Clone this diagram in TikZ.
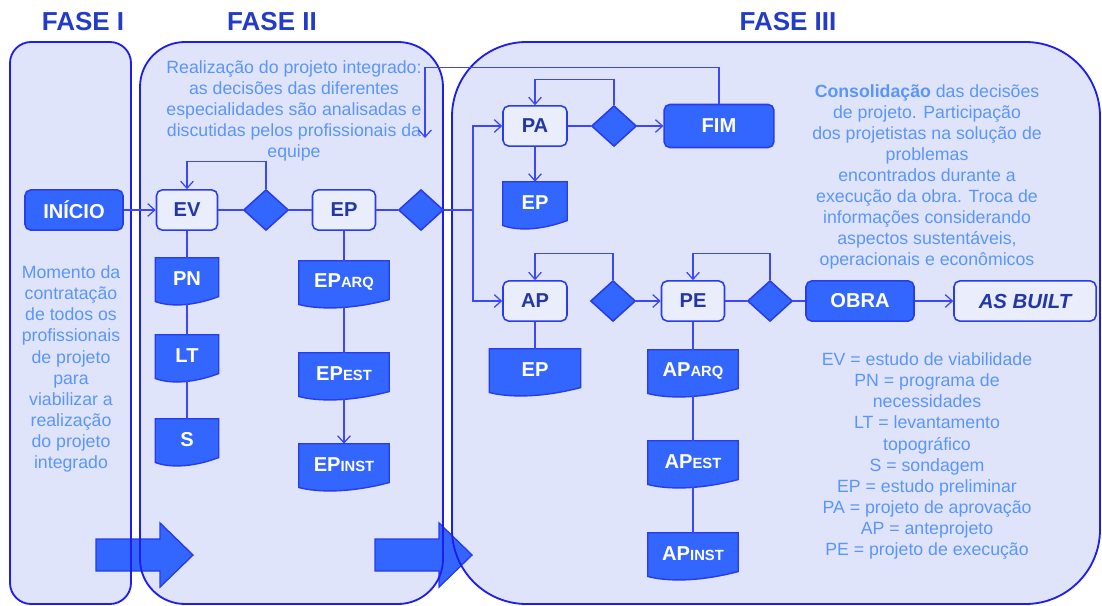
\documentclass[tikz,border=0pt]{standalone}
\usepackage{fontspec}
\setmainfont{Liberation Sans}
\usepackage{xcolor}
\usetikzlibrary{arrows.meta, positioning, calc, shapes.geometric}

\definecolor{lilas}{RGB}{224,228,250}
\definecolor{borda}{RGB}{30,30,235}
\definecolor{azul}{RGB}{51,102,255}
\definecolor{contorno}{RGB}{40,60,235}
\definecolor{escuro}{RGB}{35,55,165}
\definecolor{claro}{RGB}{90,150,250}
\definecolor{titulo}{RGB}{35,60,200}
\definecolor{traco}{RGB}{60,70,250}
\definecolor{caixa}{RGB}{234,237,252}

\tikzset{
  fase/.style={text=titulo, font=\fontsize{18.5}{20}\selectfont\bfseries},
  painel/.style={draw=borda, line width=1.3pt},
  texto/.style={text=claro, align=center, font=\fontsize{12.6}{15}\selectfont},
  aberta/.style={draw=contorno, line width=1.1pt, fill=caixa, rounded corners=4pt, text=escuro,
    font=\fontsize{14.3}{16}\selectfont\bfseries, minimum height=28.5pt, inner sep=0pt},
  cheia/.style={aberta, fill=azul, text=white},
  losango/.style={diamond, draw=contorno, line width=1.1pt, fill=azul, minimum width=32pt,
    minimum height=29pt, inner sep=0pt},
  folhabox/.style={minimum height=32.7pt, inner sep=0pt},
  folhafill/.style={fill=azul, draw=contorno, line width=1pt},
  folhatexto/.style={text=white, font=\fontsize{14.3}{16}\selectfont\bfseries, inner sep=0pt},
  liga/.style={draw=traco, line width=0.9pt},
  seta/.style={fill=azul, draw=contorno, line width=1pt},
}

\newcommand{\miudo}[1]{{\fontsize{10.5}{12}\selectfont #1}}
% documento com base ondulada
\newcommand{\folha}[4]{%
  \node[folhabox, minimum width=#3] (#1) at (#2) {};
  \filldraw[folhafill] (#1.north west) -- (#1.north east) -- ([yshift=5.5pt]#1.south east)
    .. controls ($(#1.south east)!0.45!(#1.south west)+(0,3)$) and ($(#1.south east)!0.8!(#1.south west)+(0,2)$)
    .. ([yshift=2pt]#1.south west) -- cycle;
  \node[folhatexto] at ([yshift=1.5pt]#1.center) {#4};
}

\begin{document}
\begin{tikzpicture}[x=0.025cm, y=-0.025cm, >={Straight Barb[length=5pt,width=9pt]}]
\useasboundingbox (0,0) rectangle (1102,605);

% paineis das fases
\foreach \a/\b/\r in {10/131/15pt, 140/443/32pt, 452/1100/53pt}
  \fill[lilas, rounded corners=\r] (\a,42) rectangle (\b,604);
\foreach \x in {96,375}
  \filldraw[seta] (\x,539) -- ++(64,0) -- ++(0,-16) -- ++(33,32) -- ++(-33,32) -- ++(0,-16) -- ++(-64,0) -- cycle;
\foreach \a/\b/\r in {10/131/15pt, 140/443/32pt, 452/1100/53pt}
  \draw[painel, rounded corners=\r] (\a,42) rectangle (\b,604);

\node[fase] (f1) at (83,22) {FASE I};
\node[fase] (f2) at (272,22) {FASE II};
\node[fase] (f3) at (788,22) {FASE III};

\node[texto] (txt1) at (71,369) {Momento da\\contratação\\de todos os\\profissionais\\de projeto\\para\\viabilizar a\\realização\\do projeto\\integrado};
\node[texto] (txt2) at (294,111) {Realização do projeto integrado:\\as decisões das diferentes\\especialidades são analisadas e\\discutidas pelos profissionais da\\equipe};
\node[texto] (txt3) at (927,177) {\textbf{Consolidação} das decisões\\de projeto. Participação\\dos projetistas na solução de\\problemas\\encontrados durante a\\execução da obra. Troca de\\informações considerando\\aspectos sustentáveis,\\operacionais e econômicos};
\node[texto] (legenda) at (927,456) {EV = estudo de viabilidade\\PN = programa de\\necessidades\\LT = levantamento\\topográfico\\S = sondagem\\EP = estudo preliminar\\PA = projeto de aprovação\\AP = anteprojeto\\PE = projeto de execução};

% fluxo principal
\node[cheia, minimum width=69.7pt] (inicio) at (74,210) {INÍCIO};
\node[aberta, minimum width=43.4pt] (ev) at (187,210) {EV};
\node[losango] (d1) at (266,210) {};
\node[aberta, minimum width=44.8pt] (ep) at (344,210) {EP};
\node[losango] (d2) at (421,210) {};
\coordinate (desvio) at (473,210);
\node[aberta, minimum width=45.5pt] (pa) at (535,126) {PA};
\node[losango] (d3) at (614,126) {};
\node[cheia, minimum width=78pt, minimum height=30.6pt] (fim) at (719,126) {FIM};
\coordinate (retorno) at (425,138);
\node[aberta, minimum width=45.5pt] (ap) at (535,301) {AP};
\node[losango] (d4) at (613,301) {};
\node[aberta, minimum width=44.8pt] (pe) at (693,301) {PE};
\node[losango] (d5) at (770,301) {};
\node[cheia, minimum width=76.8pt] (obra) at (860,301) {OBRA};
\node[aberta, minimum width=101pt, font=\fontsize{14.5}{16}\selectfont\bfseries\itshape] (asbuilt) at (1025,301) {AS BUILT};

% documentos
\folha{pn}{187,281}{44.8pt}{PN}
\folha{lt}{187,358}{44.8pt}{LT}
\folha{s}{187,442}{44.8pt}{S}
\folha{eparq}{344,284}{64pt}{EP\miudo{ARQ}}
\folha{epest}{344,376}{64pt}{EP\miudo{EST}}
\folha{epinst}{344,467}{64pt}{EP\miudo{INST}}
\folha{epa}{535,205}{45.5pt}{EP}
\folha{epb}{535,372}{64.7pt}{EP}
\folha{aparq}{693,373}{64pt}{AP\miudo{ARQ}}
\folha{apest}{693,464}{64pt}{AP\miudo{EST}}
\folha{apinst}{693,556}{64pt}{AP\miudo{INST}}

% ligacoes
\draw[liga,->] (inicio) -- (ev);
\draw[liga] (ev) -- (d1);
\draw[liga] (d1) -- (ep);
\draw[liga,->] (d1.north) -- ++(0,-27) -| (ev.north);
\draw[liga] (ep) -- (d2);
\draw[liga] (d2.east) -- (desvio);
\draw[liga,->] (desvio) |- (pa);
\draw[liga,->] (desvio) |- (ap);
\draw[liga] (pa) -- (d3);
\draw[liga,->] (d3) -- (fim);
\draw[liga,->] (d3.north) -- ++(0,-25) -| (pa.north);
\draw[liga,->] (fim.north) -- ++(0,-36) -| (retorno);
\draw[liga,->] (pa) -- (epa);
\draw[liga,->] (d4) -- (pe);
\draw[liga,->] (d4.north) -- ++(0,-26) -| (ap.north);
\draw[liga] (pe) -- (d5);
\draw[liga,->] (d5.north) -- ++(0,-26) -| (pe.north);
\draw[liga] (d5) -- (obra);
\draw[liga,->] (obra) -- (asbuilt);
\draw[liga] (ev) -- (pn);
\draw[liga] (pn) -- (lt);
\draw[liga] (lt) -- (s);
\draw[liga] (ep) -- (eparq);
\draw[liga] (eparq) -- (epest);
\draw[liga,->] (epest) -- (epinst);
\draw[liga] (ap) -- (epb);
\draw[liga] (pe) -- (aparq);
\draw[liga] (aparq) -- (apest);
\draw[liga] (apest) -- (apinst);
\end{tikzpicture}
\end{document}
